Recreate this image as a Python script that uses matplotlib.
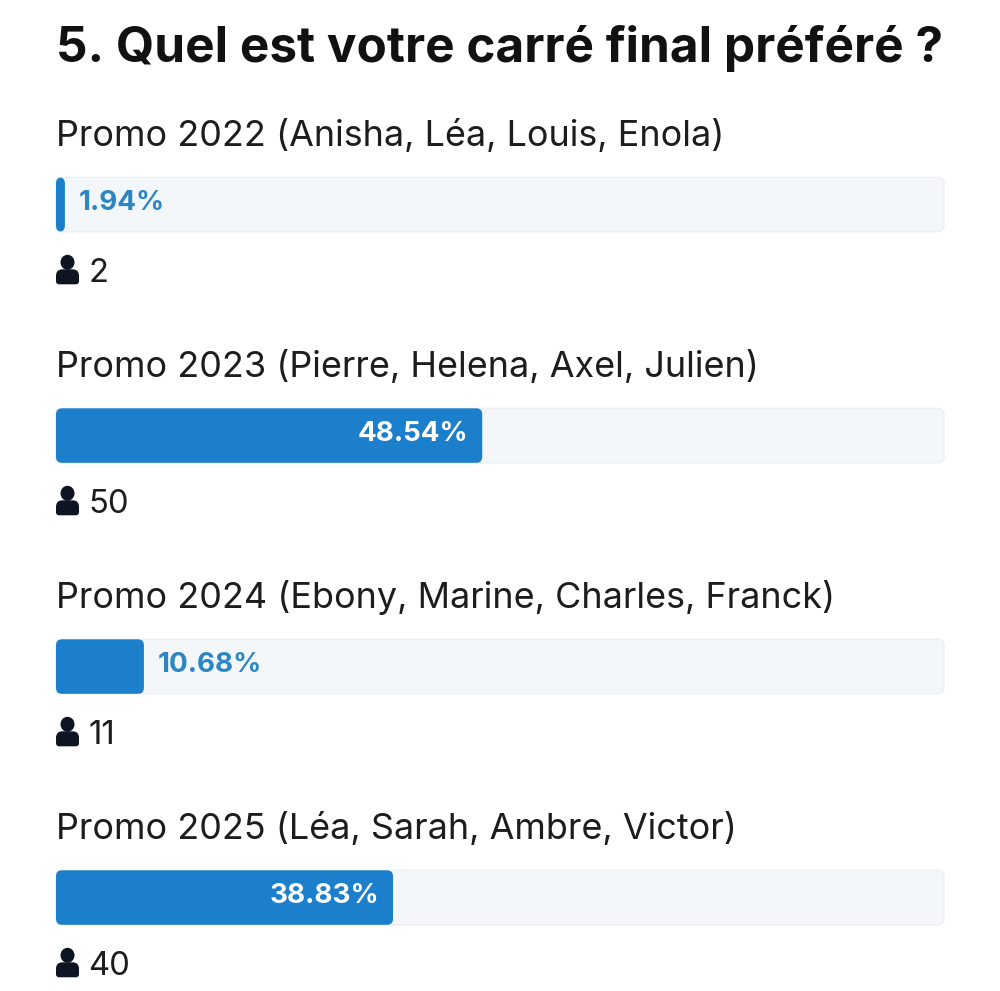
import matplotlib

matplotlib.use("Agg")
from matplotlib import pyplot as plt
from matplotlib.patches import Ellipse, FancyBboxPatch

plt.rcParams["font.family"] = ["Inter", "DejaVu Sans"]

TITLE = "5. Quel est votre carré final préféré ?"
OPTIONS = [
    "Promo 2022 (Anisha, Léa, Louis, Enola)",
    "Promo 2023 (Pierre, Helena, Axel, Julien)",
    "Promo 2024 (Ebony, Marine, Charles, Franck)",
    "Promo 2025 (Léa, Sarah, Ambre, Victor)",
]
# the widget prints these...
PERCENT_LABELS = ["1.94%", "48.54%", "10.68%", "38.83%"]
VOTES = [2, 50, 11, 40]
BAR_LENGTHS = [1.0, 48.0, 9.9, 37.95]

BAR_BLUE = "#1b7fcc"
LABEL_BLUE = "#2c86c4"
TRACK = "#f3f7fa"
TRACK_EDGE = "#ebf0f4"
DARK = "#1d1d1f"
ICON = "#0e1522"

# x is percent of the track, y is pixels from the top
fig = plt.figure(figsize=(10, 9.91), dpi=100)
ax = fig.add_axes([0.056, 0, 0.888, 1])
ax.set_xlim(0, 100)
ax.set_ylim(991, 0)
ax.axis("off")

PX = 100 / 888  # one pixel in x units


def rounded_bar(left, top, width, height, radius_px, **kwargs):
    patch = FancyBboxPatch(
        (left, top),
        width,
        height,
        boxstyle=f"round,pad=0,rounding_size={radius_px * PX}",
        mutation_aspect=1 / PX,
        clip_on=False,
        **kwargs,
    )
    ax.add_patch(patch)


def person_icon(baseline):
    ax.add_patch(
        Ellipse(
            (11.5 * PX, baseline - 20),
            14 * PX,
            15,
            color=ICON,
            lw=0,
            clip_on=False,
        )
    )
    # dome on top, nearly square corners at the bottom
    rounded_bar(0, baseline - 13, 23 * PX, 13, 6.5, color=ICON, lw=0)
    rounded_bar(0, baseline - 7, 23 * PX, 9, 3, color=ICON, lw=0)


fig.text(0.056, 1 - 62 / 991, TITLE, fontsize=35.6, fontweight="bold", color="#111111")

for i, option in enumerate(OPTIONS):
    top = 177.3 + i * 231
    ax.text(0, top - 31, option, fontsize=25.9, color=DARK, va="baseline")

    rounded_bar(0, top, 100, 54.5, 6, facecolor=TRACK, edgecolor=TRACK_EDGE, lw=1)
    rounded_bar(0, top, BAR_LENGTHS[i], 54.5, 6, color=BAR_BLUE, lw=0)

    if BAR_LENGTHS[i] > 20:
        ax.text(
            BAR_LENGTHS[i] - 14 * PX,
            top + 33,
            PERCENT_LABELS[i],
            fontsize=20,
            fontweight="bold",
            color="white",
            ha="right",
            va="baseline",
        )
    else:
        ax.text(
            BAR_LENGTHS[i] + 14 * PX,
            top + 33,
            PERCENT_LABELS[i],
            fontsize=20,
            fontweight="bold",
            color=LABEL_BLUE,
            ha="left",
            va="baseline",
        )

    person_icon(top + 105)
    ax.text(32.5 * PX, top + 105, str(VOTES[i]), fontsize=23.6, color=DARK, va="baseline")

fig.savefig("out.png", dpi=100)
